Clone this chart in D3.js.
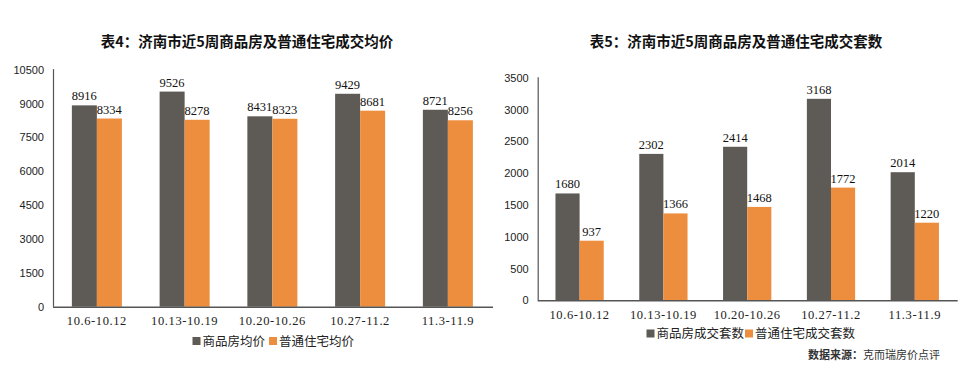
<!DOCTYPE html>
<html>
<head>
<meta charset="utf-8">
<script src="https://cdn.jsdelivr.net/npm/d3@7"></script>
<style>
  body { margin: 0; background: #fff; }
</style>
</head>
<body>
<div id="chart"></div>
<script>
const weeks = ['10.6-10.12', '10.13-10.19', '10.20-10.26', '10.27-11.2', '11.3-11.9']

const priceSeries = ['商品房均价', '普通住宅均价']
const priceCommercial = [8916, 9526, 8431, 9429, 8721]
const priceResidential = [8334, 8278, 8323, 8681, 8256]
const priceTicks = [0, 1500, 3000, 4500, 6000, 7500, 9000, 10500]

const countSeries = ['商品房成交套数', '普通住宅成交套数']
const countCommercial = [1680, 2302, 2414, 3168, 2014]
const countResidential = [937, 1366, 1468, 1772, 1220]
const countTicks = [0, 500, 1000, 1500, 2000, 2500, 3000, 3500]

const colors = ['#5e5a55', '#ed8d3e']
const axisColor = '#555'
const numFont = '"Liberation Serif", serif'
const tickFont = '"Liberation Sans", Arial, sans-serif'
const cjkFont = '"Noto Sans CJK SC", sans-serif'

const svg = d3.select('#chart').append('svg')
  .attr('width', 978)
  .attr('height', 369)

function barChart(o) {
  const g = svg.append('g')
  const rows = weeks.map((w, i) => ({ week: w, values: [o.a[i], o.b[i]] }))

  const x0 = d3.scaleBand()
    .domain(weeks)
    .range([o.left, o.right])
    .paddingInner(o.pad)
    .paddingOuter(o.pad / 2)

  const x1 = d3.scaleBand()
    .domain([0, 1])
    .range([0, x0.bandwidth()])

  const y = d3.scaleLinear()
    .domain([0, d3.max(o.ticks)])
    .range([o.bottom, o.top])

  // title
  g.append('text')
    .attr('x', o.titleX)
    .attr('y', 47)
    .attr('text-anchor', 'middle')
    .attr('font-family', cjkFont)
    .attr('font-weight', 'bold')
    .attr('font-size', 14.5)
    .attr('fill', '#111')
    .text(o.title)

  // y axis
  const yAxis = g.append('g')
    .attr('transform', `translate(${o.left},0)`)
    .call(d3.axisLeft(y).tickValues(o.ticks).tickFormat(d3.format('d')).tickSize(0).tickPadding(9))
  yAxis.select('.domain').remove()
  yAxis.selectAll('text')
    .attr('font-family', tickFont)
    .attr('font-size', 11)
    .attr('fill', '#222')

  g.append('line')
    .attr('x1', o.left + 0.5).attr('x2', o.left + 0.5)
    .attr('y1', o.top - 0.5).attr('y2', o.bottom)
    .attr('stroke', axisColor)
    .attr('stroke-width', 1.2)

  // bars
  const grp = g.selectAll('.grp')
    .data(rows)
    .join('g')
    .attr('transform', d => `translate(${x0(d.week)},0)`)

  grp.selectAll('rect')
    .data(d => d.values)
    .join('rect')
    .attr('x', (d, i) => x1(i))
    .attr('y', d => y(d))
    .attr('width', x1.bandwidth())
    .attr('height', d => y(0) - y(d))
    .attr('fill', (d, i) => colors[i])

  grp.selectAll('text')
    .data(d => d.values)
    .join('text')
    .attr('x', (d, i) => x1(i) + x1.bandwidth() / 2)
    .attr('y', d => y(d) - 5)
    .attr('text-anchor', 'middle')
    .attr('font-family', numFont)
    .attr('font-size', 12.5)
    .attr('fill', '#111')
    .text(d => d)

  // x axis
  g.append('line')
    .attr('x1', o.left).attr('x2', o.axisEnd)
    .attr('y1', o.bottom + 0.5).attr('y2', o.bottom + 0.5)
    .attr('stroke', axisColor)
    .attr('stroke-width', 1.5)

  g.selectAll('.cat')
    .data(weeks)
    .join('text')
    .attr('x', d => x0(d) + x0.bandwidth() / 2)
    .attr('y', o.catY)
    .attr('text-anchor', 'middle')
    .attr('font-family', numFont)
    .attr('font-size', 12.5)
    .attr('letter-spacing', 0.6)
    .attr('fill', '#222')
    .text(d => d)

  // legend
  const lg = g.selectAll('.leg')
    .data(o.series)
    .join('g')
    .attr('transform', (d, i) => `translate(${o.legendX[i]},${o.legendY})`)
  lg.append('rect')
    .attr('x', 0).attr('y', -4)
    .attr('width', 8).attr('height', 8)
    .attr('fill', (d, i) => colors[i])
  lg.append('text')
    .attr('x', 10)
    .attr('y', 4.5)
    .attr('font-family', cjkFont)
    .attr('font-size', 12.5)
    .attr('fill', '#222')
    .text(d => d)
}

barChart({
  title: '表4：济南市近5周商品房及普通住宅成交均价',
  titleX: 247,
  series: priceSeries,
  a: priceCommercial,
  b: priceResidential,
  ticks: priceTicks,
  left: 53, right: 491.75, axisEnd: 493,
  top: 69.6, bottom: 306.7,
  pad: 0.43,
  catY: 324.5,
  legendX: [192.5, 269],
  legendY: 341
})

barChart({
  title: '表5：济南市近5周商品房及普通住宅成交套数',
  titleX: 736,
  series: countSeries,
  a: countCommercial,
  b: countResidential,
  ticks: countTicks,
  left: 537.7, right: 956.7, axisEnd: 957.7,
  top: 77.7, bottom: 300.3,
  pad: 0.424,
  catY: 318.5,
  legendX: [646.5, 745],
  legendY: 333.5
})

// source note
const src = svg.append('text')
  .attr('x', 808)
  .attr('y', 359)
  .attr('font-family', cjkFont)
  .attr('font-size', 11)
  .attr('fill', '#333')
src.append('tspan').attr('font-weight', 'bold').text('数据来源：')
src.append('tspan').text('克而瑞房价点评')
</script>
</body>
</html>
